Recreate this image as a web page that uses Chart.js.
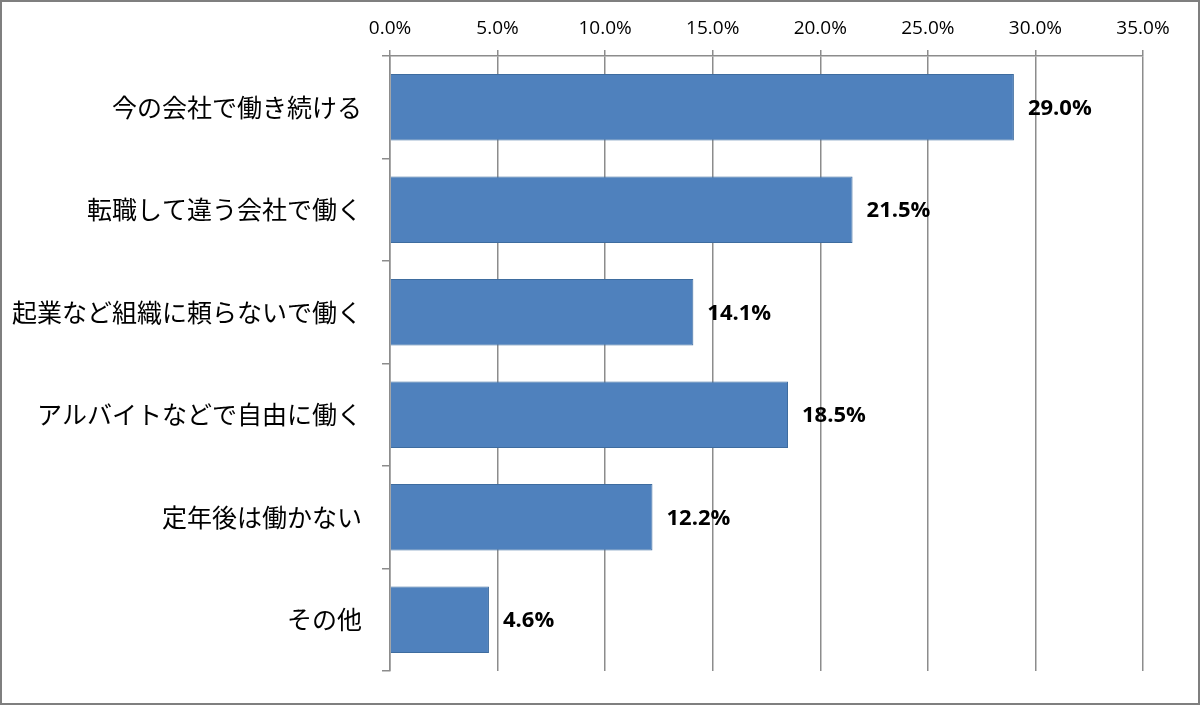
<!DOCTYPE html>
<html>
<head>
<meta charset="utf-8">
<script src="https://cdn.jsdelivr.net/npm/chart.js@4"></script>
<style>
  html, body { margin: 0; padding: 0; background: #fff; }
  #wrap { width: 1200px; height: 706px; }
</style>
</head>
<body>
<div id="wrap"><canvas id="chart" width="1200" height="706"></canvas></div>
<script>
const categories = [
  "今の会社で働き続ける",
  "転職して違う会社で働く",
  "起業など組織に頼らないで働く",
  "アルバイトなどで自由に働く",
  "定年後は働かない",
  "その他",
];

const shares = [29.0, 21.5, 14.1, 18.5, 12.2, 4.6];

const axisMin = 0;
const axisMax = 35;
const axisStep = 5;

const frame = {
  id: "frame",
  afterDraw(chart) {
    const ctx = chart.ctx;
    ctx.save();
    ctx.strokeStyle = "#7f7f7f";
    ctx.lineWidth = 2;
    ctx.strokeRect(1, 1, chart.width - 2, chart.height - 3);
    ctx.restore();
  },
};

const valueLabels = {
  id: "valueLabels",
  afterDatasetsDraw(chart) {
    const ctx = chart.ctx;
    const meta = chart.getDatasetMeta(0);
    ctx.save();
    ctx.font = "bold 22px 'Open Sans', sans-serif";
    ctx.fillStyle = "#000";
    ctx.textAlign = "left";
    ctx.textBaseline = "middle";
    meta.data.forEach(function (bar, i) {
      ctx.fillText(shares[i].toFixed(1) + "%", bar.x + 14, bar.y + 1);
    });
    ctx.restore();
  },
};

new Chart(document.getElementById("chart"), {
  type: "bar",
  data: {
    labels: categories,
    datasets: [
      {
        data: shares,
        backgroundColor: "#4f81bd",
        borderColor: "#3e6c9f",
        borderWidth: 1,
        barPercentage: 0.65,
        categoryPercentage: 1,
      },
    ],
  },
  options: {
    indexAxis: "y",
    responsive: false,
    animation: false,
    layout: {
      padding: { top: 0, right: 57, bottom: 28, left: 0 },
    },
    scales: {
      x: {
        position: "top",
        min: axisMin,
        max: axisMax,
        afterFit: function (scale) {
          scale.height = 56;
        },
        ticks: {
          stepSize: axisStep,
          padding: 10,
          color: "#000",
          font: { family: "'Open Sans', sans-serif", size: 19 },
          callback: function (value) {
            return value.toFixed(1) + "%";
          },
        },
        grid: {
          color: "#8c8c8c",
          lineWidth: 1.5,
          tickLength: 6,
        },
        border: { color: "#8c8c8c", width: 1.5 },
      },
      y: {
        afterFit: function (scale) {
          scale.width = 390;
        },
        ticks: {
          padding: 20,
          color: "#000",
          font: { family: "'Noto Sans CJK JP', sans-serif", size: 25 },
        },
        grid: {
          drawOnChartArea: false,
          color: "#8c8c8c",
          lineWidth: 1.5,
          tickLength: 8,
        },
        border: { color: "#8c8c8c", width: 1.5 },
      },
    },
    plugins: {
      legend: { display: false },
      tooltip: { enabled: false },
    },
  },
  plugins: [frame, valueLabels],
});
</script>
</body>
</html>
